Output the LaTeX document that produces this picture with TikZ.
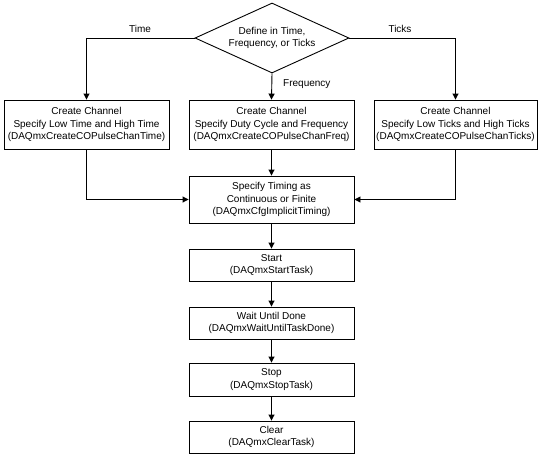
\documentclass[tikz,border=0pt]{standalone}
\usepackage{fontspec}
\setmainfont{Liberation Sans}
\usetikzlibrary{shapes.geometric,arrows.meta}
\begin{document}
\begin{tikzpicture}[x=1pt,y=-1pt,
  every node/.style={font=\fontsize{10}{12.2}\selectfont},
  box/.style={draw,line width=0.9pt,align=center,inner sep=0pt,minimum width=165pt},
  conn/.style={line width=0.9pt,-{Triangle[length=6pt,width=6pt]}},
  lbl/.style={inner sep=0pt}]
\useasboundingbox (0,0) rectangle (541,456);
\node[diamond,draw,line width=0.9pt,minimum width=154pt,minimum height=70pt,inner sep=0pt] (dec) at (272,38) {};
\node[align=center,inner sep=0pt] (dectext) at (272,38) {Define in Time,\\Frequency, or Ticks};
\node[box,minimum height=49pt] (lbox) at (86.5,124.5) {Create Channel\\Specify Low Time and High Time\\(DAQmxCreateCOPulseChanTime)};
\node[box,minimum height=49pt] (mbox) at (271.5,124.5) {Create Channel\\Specify Duty Cycle and Frequency\\(DAQmxCreateCOPulseChanFreq)};
\node[box,minimum height=49pt,minimum width=163pt] (rbox) at (455.5,124.5) {Create Channel\\Specify Low Ticks and High Ticks\\(DAQmxCreateCOPulseChanTicks)};
\node[box,minimum height=47pt] (timing) at (271.5,199.5) {Specify Timing as\\Continuous or Finite\\(DAQmxCfgImplicitTiming)};
\node[box,minimum height=32pt] (start) at (271.5,265) {Start\\(DAQmxStartTask)};
\node[box,minimum height=32pt] (wait) at (271.5,323) {Wait Until Done\\(DAQmxWaitUntilTaskDone)};
\node[box,minimum height=33pt] (stop) at (271.5,379.5) {Stop\\(DAQmxStopTask)};
\node[box,minimum height=32pt] (clear) at (271.5,437) {Clear\\(DAQmxClearTask)};
\node[lbl] (ltime) at (140,29) {Time};
\node[lbl] (lticks) at (400,29) {Ticks};
\node[lbl,anchor=west] (lfreq) at (283,84) {Frequency};
\draw[conn] (dec.west) -| (lbox.north);
\draw[conn] (dec.east) -| (rbox.north);
\draw[conn] (dec.south) -- (mbox.north);
\draw[conn] (mbox.south) -- (timing.north);
\draw[conn] (lbox.south) |- (timing.west);
\draw[conn] (rbox.south) |- (timing.east);
\draw[conn] (timing) -- (start);
\draw[conn] (start) -- (wait);
\draw[conn] (wait) -- (stop);
\draw[conn] (stop) -- (clear);
\end{tikzpicture}
\end{document}
